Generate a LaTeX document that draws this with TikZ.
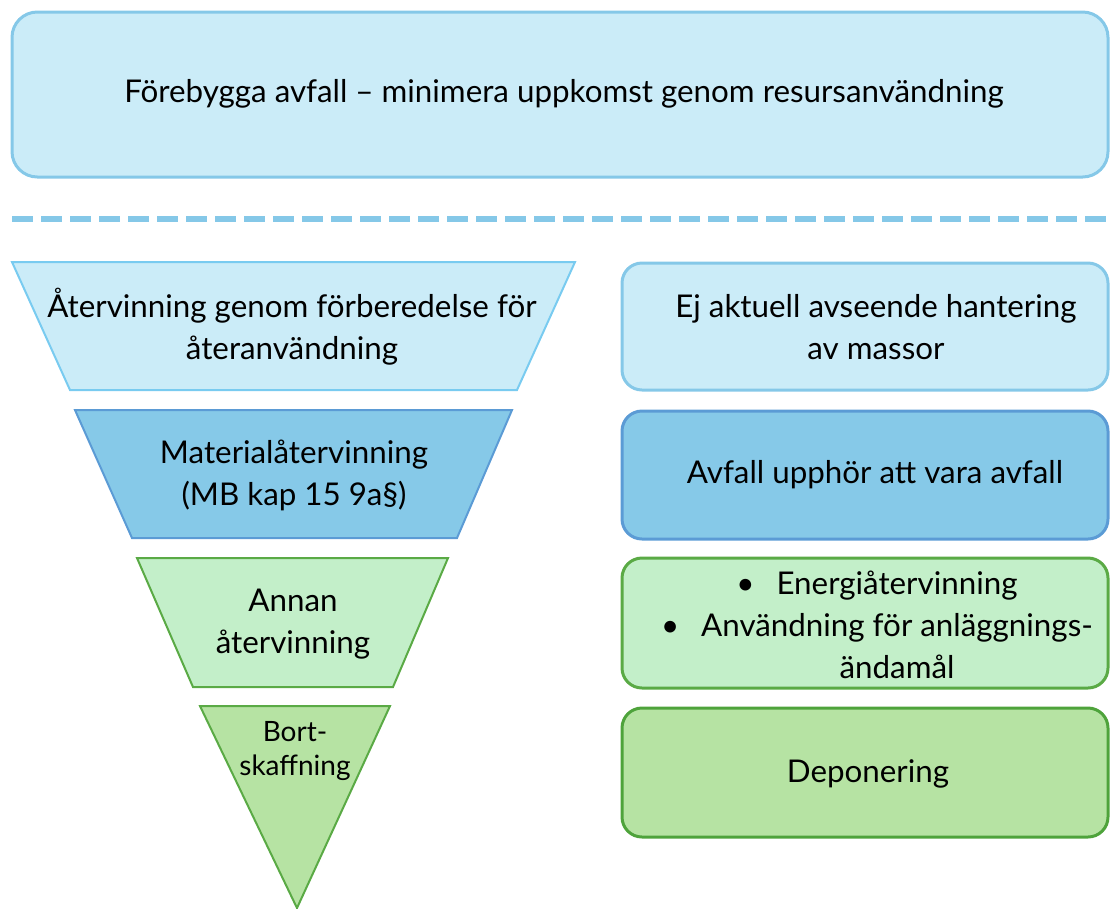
\documentclass[tikz,border=0pt]{standalone}
\usepackage{fontspec}
\setmainfont{Lato}
\usepackage{tikz}
\definecolor{paleblue}{HTML}{CBECF8}
\definecolor{paleblueline}{HTML}{85C8E8}
\definecolor{trapline}{HTML}{79CBF0}
\definecolor{midblue}{HTML}{86C9E8}
\definecolor{midblueline}{HTML}{5B9BD5}
\definecolor{palegreen}{HTML}{C3EFC9}
\definecolor{greenline}{HTML}{5AAA45}
\definecolor{midgreen}{HTML}{B6E3A3}
\definecolor{midgreenline}{HTML}{4EA33B}

\tikzset{
  pxgrid/.style={x=0.75pt, y=-0.75pt},
  topblock/.style={fill=paleblue, draw=paleblueline, line width=2.25pt, rounded corners=19pt},
  sideblock/.style={line width=2.25pt, rounded corners=15pt},
  funnel/.style={line width=1.5pt, line join=miter},
  lbl/.style={font=\fontsize{23.5}{31.5}\selectfont, align=center, inner sep=0pt},
  smalllbl/.style={font=\fontsize{21}{25}\selectfont, align=center, inner sep=0pt},
}
\newcommand{\bulletgap}{\textbullet\hspace{0.7em}}

\begin{document}
\begin{tikzpicture}[pxgrid]
		\useasboundingbox (0,0) rectangle (1110,908);

		% prevention on top
		\filldraw[topblock] (12,12) rectangle (1108,177);
		\node[lbl] (prevent) at (564,94) {Förebygga avfall – minimera uppkomst genom resursanvändning};

		\coordinate (sepL) at (12,219);
		\coordinate (sepR) at (1110,219);
		\draw[paleblueline, line width=4.5pt, dash pattern=on 15.75pt off 6pt] (sepL) -- (sepR);

		% the funnel
		\filldraw[funnel, fill=paleblue, draw=trapline] (12,262) -- (575,262) -- (517,390) -- (70,390) -- cycle;
		\node[lbl] (reuse) at (292,327) {Återvinning genom förberedelse för\\återanvändning};

		\filldraw[funnel, fill=midblue, draw=midblueline] (75,410) -- (512,410) -- (457,538) -- (132,538) -- cycle;
		\node[lbl] (material) at (294,475) {Materialåtervinning\\(MB kap 15 9a§)};

		\filldraw[funnel, fill=palegreen, draw=greenline] (137,558) -- (448,558) -- (393,687) -- (193,687) -- cycle;
		\node[lbl] (other) at (293,624) {Annan\\återvinning};

		\filldraw[funnel, fill=midgreen, draw=greenline] (200,706) -- (390,706) -- (297,908) -- cycle;
		\node[smalllbl] (disposal) at (295,751) {Bort-\\skaffning};

		% boxes on the right
		\filldraw[sideblock, fill=paleblue, draw=paleblueline] (622,263) rectangle (1108,390);
		\node[lbl] (notrel) at (876,327) {Ej aktuell avseende hantering\\av massor};

		\filldraw[sideblock, fill=midblue, draw=midblueline] (622,411) rectangle (1108,539);
		\node[lbl] (endwaste) at (875,475) {Avfall upphör att vara avfall};

		\filldraw[sideblock, fill=palegreen, draw=greenline] (622,558) rectangle (1108,688);
		\node[lbl] (energy) at (877,625) {\bulletgap Energiåtervinning\\
			\bulletgap Användning för anläggnings-\\
			\phantom{\bulletgap}ändamål};

		\filldraw[sideblock, fill=midgreen, draw=midgreenline] (622,708) rectangle (1108,837);
		\node[lbl] (landfill) at (868,774) {Deponering};
	\end{tikzpicture}
\end{document}
